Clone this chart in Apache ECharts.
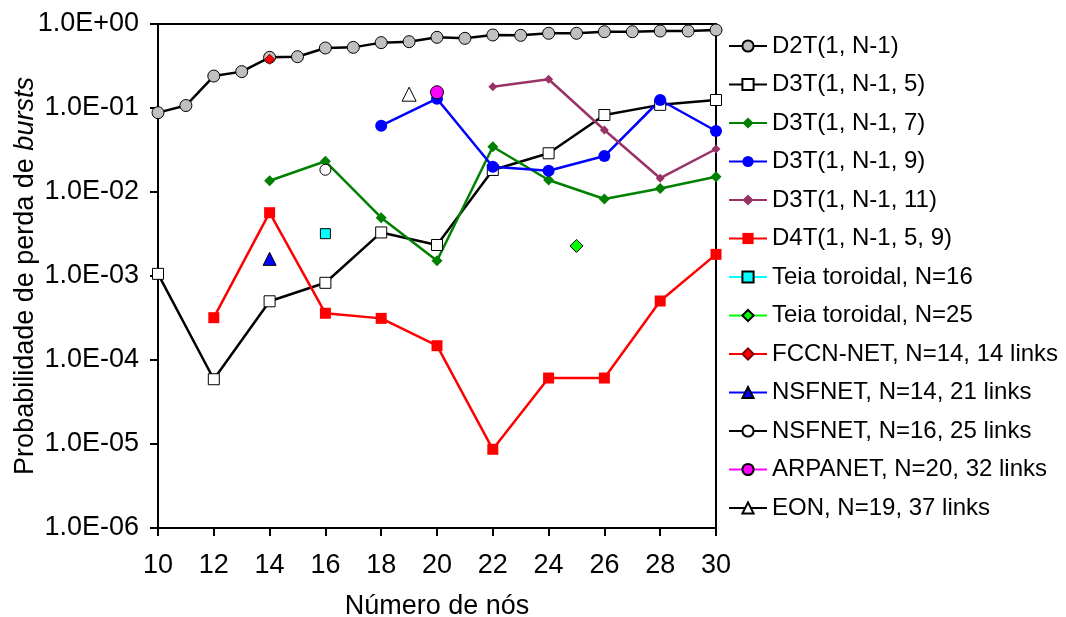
<!DOCTYPE html>
<html>
<head>
<meta charset="utf-8">
<script src="https://cdn.jsdelivr.net/npm/echarts@6/dist/echarts.min.js"></script>
<style>html,body{margin:0;padding:0;background:#fff}#c{width:1066px;height:617px}</style>
</head>
<body>
<div id="c"></div>
<script>
// ---- data ----
const nAll = [10,11,12,13,14,15,16,17,18,19,20,21,22,23,24,25,26,27,28,29,30];
const d2t = [0.088,0.107,0.240,0.271,0.401,0.408,0.518,0.527,0.600,0.616,0.694,0.675,0.740,0.733,0.775,0.775,0.810,0.810,0.825,0.825,0.848];

const nD3T5 = [10,12,14,16,18,20,22,24,26,28,30];
const d3t5 = [1.06e-3,5.9e-5,5.0e-4,8.3e-4,3.3e-3,2.34e-3,0.0183,0.0289,0.0825,0.109,0.1245];

const nD3T7 = [14,16,18,20,22,24,26,28,30];
const d3t7 = [0.0136,0.0232,4.94e-3,1.52e-3,0.0346,0.0139,8.26e-3,0.011,0.0152];

const nD3T9 = [18,20,22,24,26,28,30];
const d3t9 = [0.0616,0.129,0.020,0.0179,0.0268,0.1245,0.0532];

const nD3T11 = [22,24,26,28,30];
const d3t11 = [0.179,0.220,0.0547,0.0146,0.0325];

const nD4T = [12,14,16,18,20,22,24,26,28,30];
const d4t = [3.19e-4,5.67e-3,3.6e-4,3.13e-4,1.48e-4,8.65e-6,6.1e-5,6.1e-5,5.04e-4,1.81e-3];

const singleNames = ['Teia toroidal, N=16','Teia toroidal, N=25','FCCN-NET, N=14, 14 links','NSFNET, N=14, 21 links','NSFNET, N=16, 25 links','ARPANET, N=20, 32 links','EON, N=19, 37 links'];
const singleN = [16,25,14,14,16,20,19];
const singleP = [3.19e-3,2.28e-3,0.38,1.6e-3,0.0184,0.154,0.146];

const xTicks = {min:10,max:30,step:2};
const yRange = {min:1e-6,max:1};

// ---- helpers ----
const pairs = (xs, ys) => xs.map((x,i)=>[x, ys[i]]);
function sciLabel(v){
  const e = Math.round(Math.log10(v));
  const s = e < 0 ? '-' : '+';
  const a = Math.abs(e);
  return '1.0E' + s + (a < 10 ? '0' + a : '' + a);
}
const FONT = 'Liberation Sans, Arial, sans-serif';

function lineSeries(name, data, color, symbol, size, fill, border, lw){
  return {
    name, type:'line', data, symbol, symbolSize:size,
    lineStyle:{color:color, width:lw},
    itemStyle:{color:fill, borderColor:border||fill, borderWidth:border?1:0},
    emphasis:{disabled:true}, z:2
  };
}

const series = [
  lineSeries('D2T(1, N-1)', pairs(nAll,d2t), '#000', 'circle', 12, '#c0c0c0', '#000', 2.5),
  lineSeries('D3T(1, N-1, 5)', pairs(nD3T5,d3t5), '#000', 'rect', 11, '#fff', '#000', 2.5),
  lineSeries('D3T(1, N-1, 7)', pairs(nD3T7,d3t7), '#008000', 'diamond', 11, '#008000', null, 2.5),
  lineSeries('D3T(1, N-1, 9)', pairs(nD3T9,d3t9), '#0000ff', 'circle', 12, '#0000ff', null, 2.5),
  lineSeries('D3T(1, N-1, 11)', pairs(nD3T11,d3t11), '#993366', 'diamond', 9, '#993366', null, 2.5),
  lineSeries('D4T(1, N-1, 5, 9)', pairs(nD4T,d4t), '#ff0000', 'rect', 11, '#ff0000', null, 2.5)
];
const singleStyle = [
  ['#00ffff','rect',10,'#00ffff','#000',2.5],
  ['#00ff00','diamond',13,'#00ff00','#000',2.5],
  ['#ff0000','diamond',10,'#ff0000','#800000',1],
  ['#0000ff','triangle',13,'#0000ff','#000',2.5],
  ['#000000','circle',11,'#ffffff','#000',2.5],
  ['#ff00ff','circle',13,'#ff00ff','#000',2.5],
  ['#000000','triangle',14,'#ffffff','#000',2.5]
];
singleNames.forEach((nm,i)=>{
  const s = singleStyle[i];
  series.push(lineSeries(nm, [[singleN[i], singleP[i]]], s[0], s[1], s[2], s[3], s[4], s[5]));
});

const chart = echarts.init(document.getElementById('c'), null, {renderer:'canvas'});
chart.setOption({
  animation:false,
  backgroundColor:'#fff',
  textStyle:{fontFamily:FONT, color:'#000'},
  grid:{left:158, top:24, right:350, bottom:89, containLabel:false, outerBoundsMode:'none',
        show:true, borderColor:'#000', borderWidth:2, backgroundColor:'transparent'},
  legend:{
    orient:'vertical', left:723, top:29, itemWidth:38, itemHeight:14, itemGap:14.5,
    textStyle:{fontFamily:FONT, fontSize:24, lineHeight:24, color:'#000'},
    data: series.map(s=>s.name), selectedMode:false
  },
  xAxis:{
    type:'value', min:xTicks.min, max:xTicks.max, interval:xTicks.step,
    name:'Número de nós', nameLocation:'middle', nameGap:65, nameMoveOverlap:false,
    nameTextStyle:{fontFamily:FONT, fontSize:27, color:'#000'},
    axisLine:{show:true, onZero:false, lineStyle:{color:'#000', width:2}},
    axisTick:{show:true, length:8, lineStyle:{color:'#000', width:2}},
    axisLabel:{fontFamily:FONT, fontSize:27, color:'#000', margin:24},
    splitLine:{show:false}
  },
  yAxis:{
    type:'log', logBase:10, min:yRange.min, max:yRange.max, splitNumber:6,
    name:'{a|Probabilidade de perda de }{b|bursts}', nameLocation:'middle', nameGap:119, nameRotate:90, nameMoveOverlap:false,
    nameTextStyle:{rich:{a:{fontFamily:FONT, fontSize:27, color:'#000'}, b:{fontFamily:FONT, fontSize:27, fontStyle:'italic', color:'#000'}}},
    axisLine:{show:true, lineStyle:{color:'#000', width:2}},
    axisTick:{show:true, length:8, lineStyle:{color:'#000', width:2}},
    minorTick:{show:false},
    axisLabel:{fontFamily:FONT, fontSize:27, color:'#000', margin:19, formatter:sciLabel},
    splitLine:{show:false}
  },
  series
});
</script>
</body>
</html>
